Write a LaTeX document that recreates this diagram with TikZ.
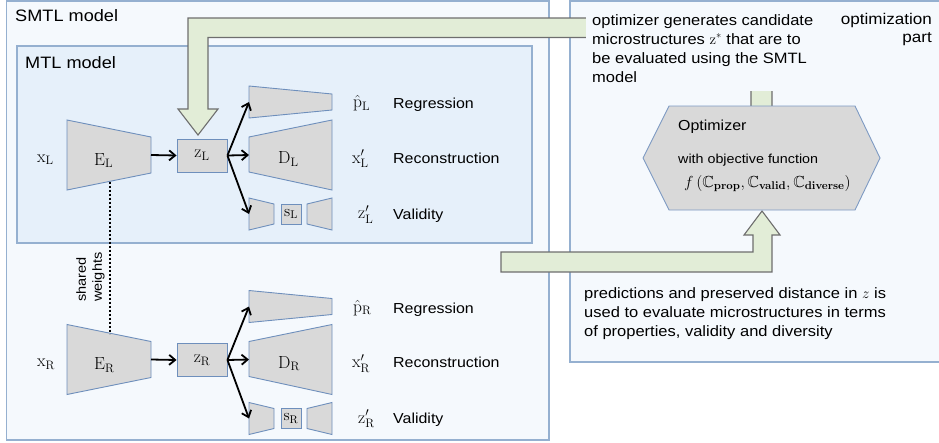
\documentclass[tikz,border=0pt]{standalone}
\usepackage{fix-cm}
\usepackage{amssymb}
\usepackage[no-math]{fontspec}
\setmainfont{Liberation Sans}[FakeStretch=1.1]
\usetikzlibrary{arrows.meta}
\definecolor{smtlfill}{HTML}{F5F9FD}
\definecolor{mtlfill}{HTML}{E6F0FA}
\definecolor{boxline}{HTML}{95B0D0}
\definecolor{grn}{HTML}{E2EDD7}
\definecolor{grnline}{HTML}{6E6E6E}
\definecolor{shapefill}{HTML}{D9D9D9}
\definecolor{shapeline}{HTML}{6E8FBC}
\tikzset{
  outerbox/.style={fill=smtlfill, draw=boxline, line width=1.2pt},
  innerbox/.style={fill=mtlfill, draw=boxline, line width=1.2pt},
  blk/.style={fill=shapefill, draw=shapeline, line width=0.9pt, line join=miter},
  grnarrow/.style={fill=grn, draw=grnline, line width=1.1pt, line join=miter},
  conn/.style={-{Straight Barb[length=6pt,width=10pt]}, line width=1.8pt},
  sharedline/.style={line width=2pt, dash pattern=on 2pt off 2pt},
  txt/.style={font=\fontsize{14.5}{17}\selectfont, inner sep=0pt, anchor=base west},
  mlbl/.style={font=\fontsize{17.5}{20}\selectfont, inner sep=0pt, anchor=base west},
  title/.style={font=\fontsize{16.5}{19}\selectfont, inner sep=0pt, anchor=base west},
  desc/.style={font=\fontsize{15}{19}\selectfont, inner sep=0pt, anchor=north west, align=left},
}
\newcommand\mybranch[1]{%
  \draw[blk] (67,120) -- (151,137) -- (151,173) -- (67,190) -- cycle;
  \node[mlbl] (E#1) at (94,165) {$\mathrm{E}_{\mathrm{#1}}$};
  \node[mlbl] (x#1) at (37,162) {$\mathrm{x}_{\mathrm{#1}}$};
  \coordinate (E#1out) at (151,155);
  \node[blk, minimum width=50pt, minimum height=33pt, inner sep=0pt, font=\fontsize{17.5}{20}\selectfont] (z#1) at (202,155.5) {$\mathrm{z}_{\mathrm{#1}}$};
  \draw[blk] (249,86) -- (332,94) -- (332,110) -- (249,118) -- cycle;
  \coordinate (reg#1in) at (249,102);
  \draw[blk] (249,137) -- (332,120) -- (332,190) -- (249,172) -- cycle;
  \node[mlbl] (D#1) at (278,163.5) {$\mathrm{D}_{\mathrm{#1}}$};
  \coordinate (dec#1in) at (249,155);
  \draw[blk] (249,198) -- (274,204) -- (274,224) -- (249,230) -- cycle;
  \node[blk, minimum width=20pt, minimum height=20pt, inner sep=0pt, font=\fontsize{16}{18}\selectfont] (s#1) at (291,214) {$\mathrm{s}_{\mathrm{#1}}$};
  \draw[blk] (307,204) -- (332,198) -- (332,230) -- (307,224) -- cycle;
  \coordinate (val#1in) at (249,214);
  \node[mlbl] (p#1) at (353,107.5) {$\hat{\mathrm{p}}_{\mathrm{#1}}$};
  \node[mlbl] (xp#1) at (352,163) {$\mathrm{x}'_{\mathrm{#1}}$};
  \node[mlbl] (zp#1) at (358,218.5) {$\mathrm{z}'_{\mathrm{#1}}$};
  \node[txt] (reglbl#1) at (393,108.5) {Regression};
  \node[txt] (reclbl#1) at (393,163) {Reconstruction};
  \node[txt] (vallbl#1) at (393,219) {Validity};
  \draw[conn] (E#1out) -- (z#1.west);
  \draw[conn] (z#1.east) -- (reg#1in);
  \draw[conn] (z#1.east) -- (dec#1in);
  \draw[conn] (z#1.east) -- (val#1in);
}
\begin{document}
\begin{tikzpicture}[x=1pt, y=-1pt]
\useasboundingbox (0,0) rectangle (939,442);
\clip (0,0) rectangle (939,442);
% containers
\draw[outerbox] (6.5,1) rectangle (549,440);
\draw[innerbox] (17,46) rectangle (532,243);
\draw[outerbox] (570,1) rectangle (960,362);
\node[title] (smtl) at (15,21.7) {SMTL model};
\node[title] (mtl) at (25,68) {MTL model};
\node[font=\fontsize{15.5}{18}\selectfont, inner sep=0pt, anchor=base east] (opt1) at (932,24.5) {optimization};
\node[font=\fontsize{15.5}{18}\selectfont, inner sep=0pt, anchor=base east] (opt2) at (932,42) {part};
% green arrows
\draw[grnarrow] (772,108) -- (772,18) -- (188,18) -- (188,109) -- (178,109) -- (198,135)
  -- (218,109) -- (208,109) -- (208,37.5) -- (751,37.5) -- (751,108) -- cycle;
\draw[grnarrow] (501,252) -- (753,252) -- (753,235) -- (744,235) -- (762,211) -- (780,235)
  -- (772,235) -- (772,272) -- (501,272) -- cycle;
\fill[smtlfill] (586,6) rectangle (822,90.5);
\node[desc] (desctop) at (592,14) {optimizer generates candidate\\microstructures $\mathrm{z}^{*}$ that are to\\be evaluated using the SMTL\\model};
\node[desc] (descbot) at (584,287) {predictions and preserved distance in $z$ is\\used to evaluate microstructures in terms\\of properties, validity and diversity};
% optimizer
\draw[blk, draw=shapeline!90] (643,158) -- (669,106) -- (855,106) -- (880,158) -- (855,210) -- (669,210) -- cycle;
\node[font=\fontsize{14.5}{17}\selectfont, inner sep=0pt, anchor=base west] (optim) at (678,130) {Optimizer};
\node[font=\fontsize{13}{16}\selectfont, inner sep=0pt, anchor=base west] (objf) at (678,163) {with objective function};
\node[font=\fontsize{16}{18}\selectfont, inner sep=0pt, anchor=base west] (formula) at (684,187) {$f\,(\mathbb{C}_{\mathbf{prop}}, \mathbb{C}_{\mathbf{valid}}, \mathbb{C}_{\mathbf{diverse}})$};
% branches
\mybranch{L}
\begin{scope}[yshift=-204.5pt]
\mybranch{R}
\end{scope}
% shared weights
\coordinate (swtop) at (110,181.5);
\coordinate (swbot) at (110,333.5);
\draw[sharedline] (swtop) -- (swbot);
\node[font=\fontsize{13.2}{16}\selectfont, inner sep=0pt, rotate=90, anchor=north west, align=left] (swlbl) at (76,302) {shared\\weights};
\end{tikzpicture}
\end{document}
